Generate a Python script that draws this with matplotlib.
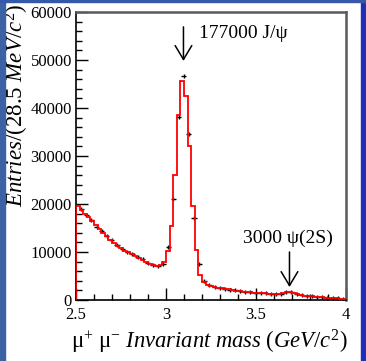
import numpy as np
import matplotlib
matplotlib.use("Agg")
import matplotlib.pyplot as plt
from matplotlib.patches import Rectangle

# fitted curve, 20 MeV steps from 2.5 to 4.0 GeV
fit_lo, fit_hi, fit_step = 2.5, 4.0, 0.02
fit_vals = [19600, 18800, 18000, 17200, 16400, 15600, 14800, 14000, 13300, 12600,
            11900, 11300, 10800, 10300, 9900, 9500, 9100, 8700, 8300, 7900,
            7600, 7300, 7100, 7200, 7900, 10200, 15500, 26000, 38500, 45700,
            42500, 32000, 19500, 10500, 5200, 3700, 3200, 2900, 2750, 2600,
            2450, 2300, 2200, 2050, 1950, 1850, 1750, 1700, 1650, 1550,
            1500, 1450, 1400, 1350, 1300, 1300, 1300, 1450, 1650, 1700,
            1550, 1250, 1000, 900, 820, 760, 700, 640, 580, 520,
            460, 400, 340, 280, 220]

# data points (28.5 MeV bins)
bin_w = 0.0285
data_mass = [2.5285, 2.557, 2.5855, 2.614, 2.6425, 2.671, 2.6995, 2.728, 2.7565, 2.785,
             2.8135, 2.842, 2.8705, 2.899, 2.9275, 2.956, 2.9845, 3.013, 3.0415, 3.070,
             3.0985, 3.127, 3.1555, 3.184, 3.2125, 3.241, 3.2695, 3.298, 3.3265, 3.355,
             3.3835, 3.412, 3.4405, 3.469, 3.4975, 3.526, 3.5545, 3.583, 3.6115, 3.640,
             3.6685, 3.697, 3.7255, 3.754, 3.7825, 3.811, 3.8395, 3.868, 3.8965, 3.925,
             3.9535, 3.982]
data_vals = [18900, 17800, 16600, 15300, 14300, 13300, 12400, 11400, 10700, 10100,
             9500, 8900, 8450, 7800, 7300, 7050, 7400, 11000, 21000, 38100,
             46700, 34600, 17100, 7400, 4000, 3100, 2750, 2550, 2350, 2150,
             2000, 1850, 1750, 1650, 1550, 1500, 1400, 1350, 1300, 1350,
             1600, 1700, 1250, 950, 830, 760, 680, 590, 520, 430,
             350, 260]

plt.rcParams['font.family'] = 'Liberation Serif'
plt.rcParams['mathtext.fontset'] = 'custom'
plt.rcParams['mathtext.rm'] = 'Liberation Serif'
plt.rcParams['mathtext.it'] = 'Liberation Serif:italic'

fig = plt.figure(figsize=(3.66, 3.61), dpi=100)
fig.patches.append(Rectangle((0, 0), 5 / 366, 1, transform=fig.transFigure,
                             color='#3b62a4', zorder=0))
fig.patches.append(Rectangle((361 / 366, 0), 5 / 366, 1, transform=fig.transFigure,
                             color='#1f2fb6', zorder=0))
fig.patches.append(Rectangle((0, 359.5 / 361), 1, 1.5 / 361, transform=fig.transFigure,
                             color='#3558aa', zorder=0))

ax = fig.add_axes([76 / 366, 61 / 361, 270 / 366, 288 / 361])

ax.errorbar(data_mass, data_vals, xerr=bin_w / 2, fmt='none', ecolor='black',
            elinewidth=1, zorder=2)
ax.plot(data_mass, data_vals, ls='none', marker='|', ms=3, mew=1, color='black', zorder=2)

edges = np.arange(fit_lo, fit_hi + fit_step / 2, fit_step)
ax.stairs(fit_vals, edges, color='#ff0000', lw=1.3, zorder=3)

ax.set_xlim(2.5, 4.0)
ax.set_ylim(0, 60000)

ax.set_xticks([2.5, 3.0, 3.5, 4.0])
ax.set_xticklabels(['2.5', '3', '3.5', '4'])
ax.set_xticks(np.arange(2.5, 4.0, 0.1), minor=True)
ax.set_yticks(np.arange(0, 60001, 10000))
ax.set_yticks(np.arange(0, 60001, 2000), minor=True)
ax.tick_params(which='both', direction='in', top=False, right=False,
               labelsize=12, color='black')
ax.tick_params(which='major', length=8.5, width=1)
ax.tick_params(which='minor', length=4, width=1)
ax.tick_params(axis='y', pad=3)
ax.tick_params(axis='x', pad=5)

for s in ['left', 'bottom']:
    ax.spines[s].set_color('black')
    ax.spines[s].set_linewidth(1.2)
for s in ['top', 'right']:
    ax.spines[s].set_color('#5a5a5a')
    ax.spines[s].set_linewidth(1.8)

ax.set_xlabel(r'$\mathrm{μ^{+}\ μ^{-}}\ \mathit{Invariant\ mass\ (GeV/c^{2})}$',
              fontsize=16.3, ha='right', va='top')
ax.xaxis.set_label_coords(1.005, -0.095)
ax.set_ylabel(r'$\mathit{Entries/(28.5\ MeV/c^{2})}$', fontsize=16.5, ha='right')
ax.yaxis.set_label_coords(-0.165, 1.03)

arrow = dict(arrowstyle='->,head_length=0.5,head_width=0.3', color='black',
             lw=1.1, mutation_scale=20, shrinkA=0, shrinkB=0)
ax.annotate('', xy=(3.097, 49800), xytext=(3.097, 56900), arrowprops=arrow)
ax.text(3.183, 55600, '177000 J/ψ', fontsize=14, ha='left', va='center')
ax.annotate('', xy=(3.686, 2700), xytext=(3.686, 10000), arrowprops=arrow)
ax.text(3.68, 12900, '3000 ψ(2S)', fontsize=14, ha='center', va='center')

fig.savefig('out.png', dpi=100)
